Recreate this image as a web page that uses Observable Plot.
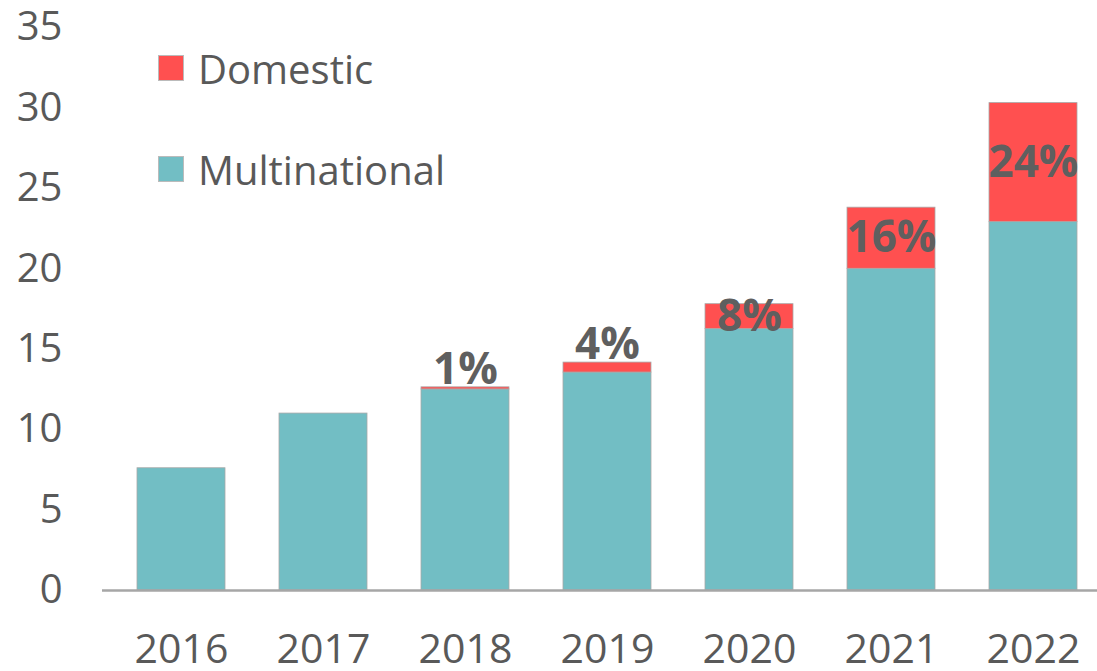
<!DOCTYPE html>
<html>
<head>
<meta charset="utf-8">
<script src="https://cdn.jsdelivr.net/npm/d3@7"></script>
<script src="https://cdn.jsdelivr.net/npm/@observablehq/plot@0.6"></script>
<style>
  html, body { margin: 0; padding: 0; background: #fff; }
  #wrap { position: relative; width: 1097px; height: 671px; font-family: "Open Sans", sans-serif; }
  #legend { position: absolute; left: 158px; top: 48px; color: #595959; font-size: 40px; }
  .item { display: flex; align-items: center; height: 40px; }
  .item + .item { margin-top: 61px; }
  .sw { width: 26px; height: 26px; margin-right: 14px; box-sizing: border-box; border: 1px solid #bbb; }
</style>
</head>
<body>
<div id="wrap"></div>
<script>
const years = ["2016", "2017", "2018", "2019", "2020", "2021", "2022"];
const multinational = [7.6, 11.0, 12.5, 13.55, 16.25, 20.0, 22.9];
const domestic = [0, 0, 0.13, 0.62, 1.55, 3.8, 7.4];
const shareLabels = ["", "", "1%", "4%", "8%", "16%", "24%"];
const seriesNames = ["Multinational", "Domestic"];
const seriesColors = ["#72BEC4", "#FF5050"];
const yTicks = [0, 5, 10, 15, 20, 25, 30, 35];

const rows = [];
years.forEach((y, i) => {
  rows.push({year: y, series: "Multinational", value: multinational[i]});
  rows.push({year: y, series: "Domestic", value: domestic[i]});
});
// small shares are labelled just above the bar, larger ones inside their segment
const labelRows = years.map((y, i) => {
  const total = multinational[i] + domestic[i];
  const share = domestic[i] / total;
  return {
    year: y,
    label: shareLabels[i],
    pos: share < 0.05 ? total + 1.1 : multinational[i] + domestic[i] / 2
  };
}).filter(d => d.label);

const chart = Plot.plot({
  width: 1097,
  height: 671,
  marginLeft: 102,
  marginRight: 0,
  marginTop: 27,
  marginBottom: 81,
  style: {fontFamily: "Open Sans, sans-serif", fontSize: "40px", color: "#595959", background: "#fff"},
  x: {domain: years, paddingInner: 0.382, paddingOuter: 0.186, align: 0.64, label: null},
  y: {domain: [0, 35], label: null},
  color: {domain: seriesNames, range: seriesColors},
  marks: [
    Plot.axisY({ticks: yTicks, tickSize: 0, tickPadding: 40, fontSize: 40, fill: "#595959", label: null}),
    Plot.axisX({tickSize: 0, tickPadding: 43, fontSize: 41, fill: "#595959", label: null}),
    Plot.barY(rows, {x: "year", y: "value", fill: "series", order: seriesNames, stroke: "#a9a9a9", strokeWidth: 0.8}),
    Plot.ruleY([0], {stroke: "#a6a6a6", strokeWidth: 2.5}),
    Plot.text(labelRows, {x: "year", y: "pos", text: "label", fontSize: 44, fontWeight: "bold", fill: "#5f5f5f"})
  ]
});
document.getElementById("wrap").appendChild(chart);

const legend = document.createElement("div");
legend.id = "legend";
[["Domestic", seriesColors[1]], ["Multinational", seriesColors[0]]].forEach(([name, col]) => {
  const it = document.createElement("div");
  it.className = "item";
  const sw = document.createElement("span");
  sw.className = "sw";
  sw.style.background = col;
  const tx = document.createElement("span");
  tx.textContent = name;
  it.appendChild(sw);
  it.appendChild(tx);
  legend.appendChild(it);
});
document.getElementById("wrap").appendChild(legend);
</script>
</body>
</html>
